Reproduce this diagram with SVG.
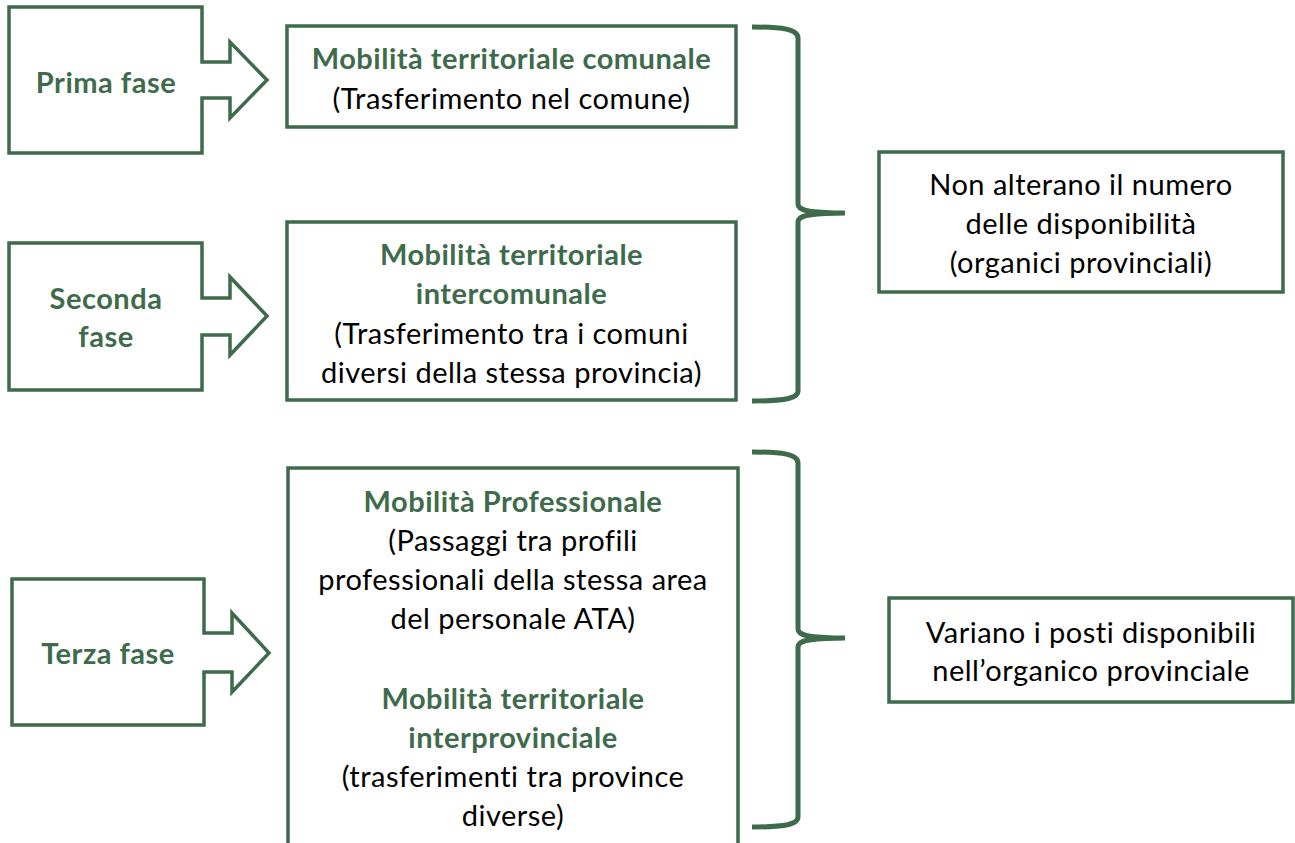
<svg xmlns="http://www.w3.org/2000/svg" width="1295" height="843" viewBox="0 0 1295 843">
<style>
.shape{fill:#fff;stroke:#3E6B4C;stroke-width:3.5}
.brace{fill:none;stroke:#3E6B4C;stroke-width:5;stroke-linecap:butt}
text{font-family:Lato,"Liberation Sans",sans-serif;font-size:29px;letter-spacing:0.5px;text-anchor:middle;fill:#000}
.t{font-weight:bold;fill:#3E6B4C}
</style>
<rect width="1295" height="843" fill="#fff"/>
<g id="prima-fase">
<path class="shape" d="M9,7 H202 V62 H230 V42 L267,80 L230,118 V98 H202 V153 H9 Z"/>
<text class="t" x="106" y="92.5">Prima fase</text>
</g>
<g id="seconda-fase">
<path class="shape" d="M9,243 H202 V298 H230 V277 L267,316 L230,355 V335 H202 V390 H9 Z"/>
<text class="t" x="106" y="308.5">Seconda</text>
<text class="t" x="106" y="346.5">fase</text>
</g>
<g id="terza-fase">
<path class="shape" d="M12,579 H204 V633 H232 V613 L269,653 L232,692 V672 H204 V725 H12 Z"/>
<text class="t" x="108" y="663.5">Terza fase</text>
</g>
<g id="mobilita-comunale">
<rect class="shape" x="287" y="26" width="449" height="101"/>
<text class="t" x="511.5" y="68.5">Mobilità territoriale comunale</text>
<text x="511.5" y="108.5">(Trasferimento nel comune)</text>
</g>
<g id="mobilita-intercomunale">
<rect class="shape" x="287" y="222" width="449" height="178"/>
<text class="t" x="511.5" y="264.5">Mobilità territoriale</text>
<text class="t" x="511.5" y="303.5">intercomunale</text>
<text x="511.5" y="343.5">(Trasferimento tra i comuni</text>
<text x="511.5" y="382.5">diversi della stessa provincia)</text>
</g>
<g id="mobilita-professionale">
<rect class="shape" x="288" y="468" width="450" height="400"/>
<text class="t" x="513" y="511.5">Mobilità Professionale</text>
<text x="513" y="550.5">(Passaggi tra profili</text>
<text x="513" y="589.5">professionali della stessa area</text>
<text x="513" y="628.5">del personale ATA)</text>
<text class="t" x="513" y="708.5">Mobilità territoriale</text>
<text class="t" x="513" y="747.5">interprovinciale</text>
<text x="513" y="786.5">(trasferimenti tra province</text>
<text x="513" y="825.5">diverse)</text>
</g>
<g id="non-alterano">
<rect class="shape" x="879" y="152" width="404" height="140"/>
<text x="1081" y="194.5">Non alterano il numero</text>
<text x="1081" y="233.5">delle disponibilità</text>
<text x="1081" y="272.5">(organici provinciali)</text>
</g>
<g id="variano">
<rect class="shape" x="889" y="598" width="404" height="104"/>
<text x="1091" y="642.5">Variano i posti disponibili</text>
<text x="1091" y="680.5">nell’organico provinciale</text>
</g>
<g id="connectors">
<path class="brace" d="M752,27 C782,27 798,29 798,38 L798,204 C798,210 806,213 845,213 C806,213 798,216 798,222 L798,391 C798,399 782,401 752,401"/>
<path class="brace" d="M752,452 C782,452 798,454 798,463 L798,629 C798,635 806,638 845,638 C806,638 798,641 798,647 L798,817 C798,825 782,827 752,827"/>
</g>
</svg>
